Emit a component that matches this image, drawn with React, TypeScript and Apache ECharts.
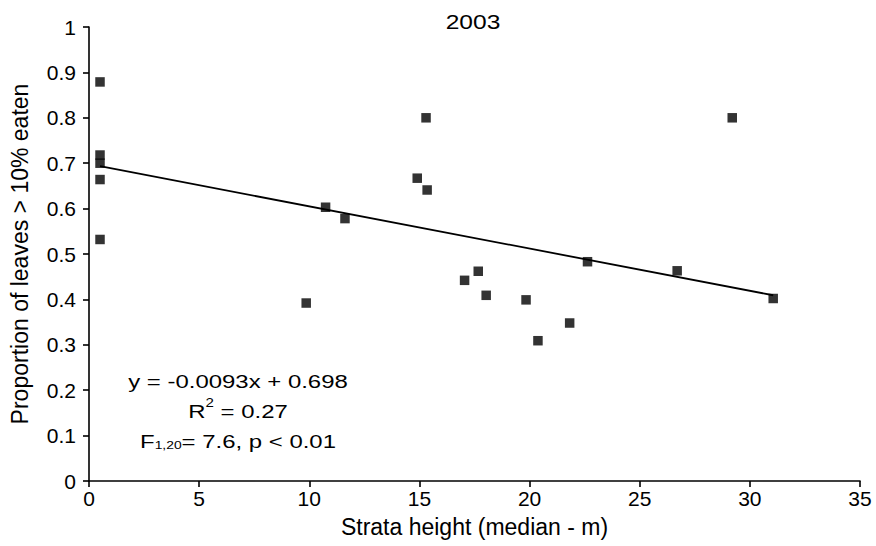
import React, { useEffect, useRef } from "react";
import * as echarts from "echarts";

const heights = [0.5, 0.5, 0.5, 0.5, 0.5, 9.86, 10.74, 11.62, 14.9, 15.3, 15.35, 17.05, 17.67, 18.03, 19.84, 20.38, 21.82, 22.63, 26.7, 29.2, 31.06];
const proportions = [0.879, 0.718, 0.7, 0.664, 0.532, 0.392, 0.603, 0.578, 0.667, 0.8, 0.641, 0.442, 0.462, 0.409, 0.399, 0.309, 0.348, 0.483, 0.463, 0.8, 0.402];
const fitSlope = -0.0093;
const fitIntercept = 0.698;
const fitRange = [0.5, 31.06];
const xTicks = [0, 35, 5];
const yTicks = [0, 1, 0.1];
const titleText = "2003";
const eqText = "y = -0.0093x + 0.698";

export default function App() {
  const ref = useRef<HTMLDivElement>(null);
  useEffect(() => {
    if (!ref.current) return;
    const chart = echarts.init(ref.current, null, { renderer: "svg" });
    const pts = heights.map((h, i) => [h, proportions[i]]);
    const line = fitRange.map((x) => [x, fitSlope * x + fitIntercept]);
    const font = "Liberation Sans, Arial, sans-serif";
    const sx = 1.26;
    chart.setOption({
      animation: false,
      backgroundColor: "#fff",
      textStyle: { fontFamily: font },
      grid: { left: 89, right: 16, top: 27, bottom: 65 },
      xAxis: {
        type: "value",
        min: xTicks[0],
        max: xTicks[1],
        interval: xTicks[2],
        name: "Strata height (median - m)",
        nameLocation: "middle",
        nameGap: 34,
        nameTextStyle: { fontSize: 23, color: "#000", fontFamily: font },
        axisLine: { lineStyle: { color: "#000", width: 1.6 } },
        axisTick: { inside: false, length: 6, lineStyle: { color: "#000", width: 1.6 } },
        axisLabel: { fontSize: 21, color: "#000", margin: 7, fontFamily: font },
        splitLine: { show: false },
      },
      yAxis: {
        type: "value",
        min: yTicks[0],
        max: yTicks[1],
        interval: yTicks[2],
        name: "Proportion of leaves > 10% eaten",
        nameLocation: "middle",
        nameGap: 58,
        nameTextStyle: { fontSize: 23, color: "#000", fontFamily: font },
        axisLine: { show: true, lineStyle: { color: "#000", width: 1.6 } },
        axisTick: { show: true, inside: false, length: 6, lineStyle: { color: "#000", width: 1.6 } },
        axisLabel: {
          fontSize: 21,
          color: "#000",
          margin: 13,
          fontFamily: font,
          formatter: (v: number) => String(Math.round(v * 10) / 10),
        },
        splitLine: { show: false },
      },
      series: [
        {
          type: "line",
          data: line,
          symbol: "none",
          lineStyle: { color: "#000", width: 1.8 },
          z: 1,
        },
        {
          type: "scatter",
          data: pts,
          symbol: "rect",
          symbolSize: 9.5,
          itemStyle: { color: "#000" },
          z: 2,
        },
      ],
      graphic: [
        {
          type: "text",
          x: 473,
          y: 22,
          scaleX: sx,
          style: {
            text: titleText,
            fontSize: 19.5,
            fill: "#000",
            fontFamily: font,
            align: "center",
            verticalAlign: "middle",
          },
        },
        {
          type: "text",
          x: 238,
          y: 381,
          scaleX: sx,
          style: {
            text: eqText,
            fontSize: 19,
            fill: "#000",
            fontFamily: font,
            align: "center",
            verticalAlign: "middle",
          },
        },
        {
          type: "text",
          x: 238,
          y: 409,
          scaleX: sx,
          style: {
            text: "{n|R}{sup|2}{n| = 0.27}",
            fontFamily: font,
            align: "center",
            verticalAlign: "middle",
            rich: {
              n: { fontSize: 19, fill: "#000", fontFamily: font, lineHeight: 24, verticalAlign: "bottom" },
              sup: { fontSize: 12, fill: "#000", fontFamily: font, lineHeight: 24, verticalAlign: "top", padding: [0, 0, 9, 0] },
            },
          },
        },
        {
          type: "text",
          x: 238,
          y: 439,
          scaleX: sx,
          style: {
            text: "{n|F}{sub|1,20}{n|= 7.6, p < 0.01}",
            fontFamily: font,
            align: "center",
            verticalAlign: "middle",
            rich: {
              n: { fontSize: 19, fill: "#000", fontFamily: font, lineHeight: 24, verticalAlign: "bottom" },
              sub: { fontSize: 11, fill: "#000", fontFamily: font, lineHeight: 22, verticalAlign: "bottom" },
            },
          },
        },
      ],
    });
    return () => chart.dispose();
  }, []);
  return <div ref={ref} style={{ position: "fixed", left: 0, top: 0, width: 876, height: 546 }} />;
}
